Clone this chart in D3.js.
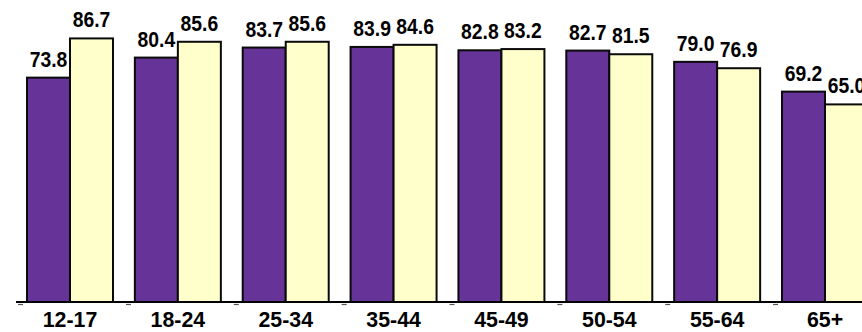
<!DOCTYPE html>
<html>
<head>
<meta charset="utf-8">
<script src="https://cdn.jsdelivr.net/npm/d3@7"></script>
<style>
  html, body { margin: 0; padding: 0; background: #fff; }
  svg { display: block; }
  .val { font-family: "Liberation Sans", Arial, sans-serif; font-weight: bold; font-size: 22.5px; fill: #000; }
  .cat { font-family: "Liberation Sans", Arial, sans-serif; font-weight: bold; font-size: 22px; fill: #000; }
</style>
</head>
<body>
<svg id="chart" width="862" height="332"></svg>
<script>
// Age groups along the x axis
const ageGroups = ["12-17", "18-24", "25-34", "35-44", "45-49", "50-54", "55-64", "65+"];
// Two series per age group (left purple bar, right cream bar)
const seriesA = [73.8, 80.4, 83.7, 83.9, 82.8, 82.7, 79.0, 69.2];
const seriesB = [86.7, 85.6, 85.6, 84.6, 83.2, 81.5, 76.9, 65.0];
const seriesKeys = ["a", "b"];
const seriesColors = ["#663399", "#FFFFCC"];

const rows = ageGroups.map((g, i) => ({ group: g, a: seriesA[i], b: seriesB[i] }));

const svg = d3.select("#chart");
const baseY = 302;

// Group positions; the last group runs past the right edge of the canvas
const x0 = d3.scaleBand()
  .domain(ageGroups)
  .range([16, 879])
  .paddingInner(0.2027)
  .paddingOuter(0.102);

const x1 = d3.scaleBand()
  .domain(seriesKeys)
  .range([0, x0.bandwidth()]);

const y = d3.scaleLinear()
  .domain([0, 100])
  .range([baseY, -2]);

const color = d3.scaleOrdinal().domain(seriesKeys).range(seriesColors);

const groups = svg.append("g")
  .selectAll("g")
  .data(rows)
  .join("g")
  .attr("transform", d => `translate(${x0(d.group)},0)`);

groups.selectAll("rect")
  .data(d => seriesKeys.map(k => ({ key: k, value: d[k] })))
  .join("rect")
  .attr("x", d => x1(d.key))
  .attr("width", x1.bandwidth())
  .attr("y", d => y(d.value))
  .attr("height", d => y(0) - y(d.value))
  .attr("fill", d => color(d.key))
  .attr("stroke", "#0a0a0a")
  .attr("stroke-width", 2);

// Value labels, set in a condensed bold face above each bar
groups.selectAll("text.val")
  .data(d => seriesKeys.map(k => ({ key: k, value: d[k] })))
  .join("text")
  .attr("class", "val")
  .attr("transform", d => `translate(${x1(d.key) + x1.bandwidth() / 2},${y(d.value) - 11}) scale(0.86,1)`)
  .attr("text-anchor", "middle")
  .text(d => d3.format(".1f")(d.value));

// Category axis along the baseline
const axis = d3.axisBottom(x0).tickSize(0).tickPadding(0);
const axisG = svg.append("g")
  .attr("transform", `translate(0,${baseY})`)
  .call(axis);
axisG.attr("font-family", null).attr("font-size", null);
axisG.select(".domain")
  .attr("d", "M16,0H862")
  .attr("stroke", "#000")
  .attr("stroke-width", 2.2);
axisG.selectAll(".tick text")
  .attr("class", "cat")
  .attr("dy", null)
  .attr("y", 25.2)
  .attr("transform", "scale(0.97,1)");

// Small separators between groups, just under the baseline
const step = x0.step();
const seps = ageGroups.map(g => x0(g) - (step - x0.bandwidth()) / 2);
svg.append("g")
  .selectAll("line")
  .data(seps)
  .join("line")
  .attr("x1", d => d + 2).attr("x2", d => d + 7)
  .attr("y1", baseY + 2.5).attr("y2", baseY + 2.5)
  .attr("stroke", "#555")
  .attr("stroke-width", 1.2);
</script>
</body>
</html>
